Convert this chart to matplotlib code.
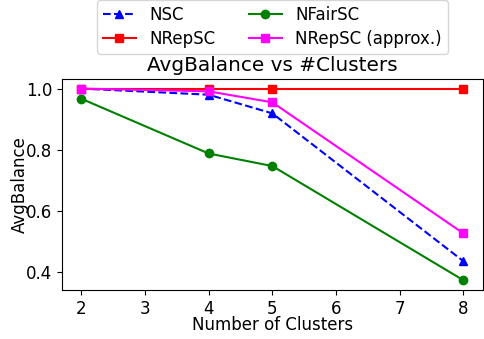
import matplotlib
matplotlib.use("Agg")
from matplotlib import pyplot as plt

clusters = [2, 4, 5, 8]
nsc = [1.0, 0.980, 0.919, 0.436]
nrepsc = [1.0, 1.0, 1.0, 1.0]
nfairsc = [0.967, 0.788, 0.747, 0.374]
nrepsc_approx = [1.0, 0.991, 0.955, 0.527]

plt.rcParams["font.size"] = 12

fig, ax = plt.subplots(figsize=(4.85, 3.39), dpi=100)

ax.plot(clusters, nsc, "b--^", label="NSC")
ax.plot(clusters, nrepsc, "r-s", label="NRepSC")
ax.plot(clusters, nfairsc, "g-o", label="NFairSC")
ax.plot(clusters, nrepsc_approx, "-s", color="magenta", label="NRepSC (approx.)")

ax.set_title("AvgBalance vs #Clusters")
ax.set_xlabel("Number of Clusters")
ax.set_ylabel("AvgBalance")
ax.xaxis.set_label_coords(0.5, -0.125)
ax.yaxis.set_label_coords(-0.08, 0.5)
ax.set_yticks([0.4, 0.6, 0.8, 1.0])

ax.legend(ncol=2, loc="lower center", bbox_to_anchor=(0.5, 1.08),
          handlelength=2, columnspacing=2.0, borderpad=0.35, labelspacing=0.35)

plt.subplots_adjust(left=0.128, right=0.995, top=0.767, bottom=0.145)
plt.savefig("out.png")
